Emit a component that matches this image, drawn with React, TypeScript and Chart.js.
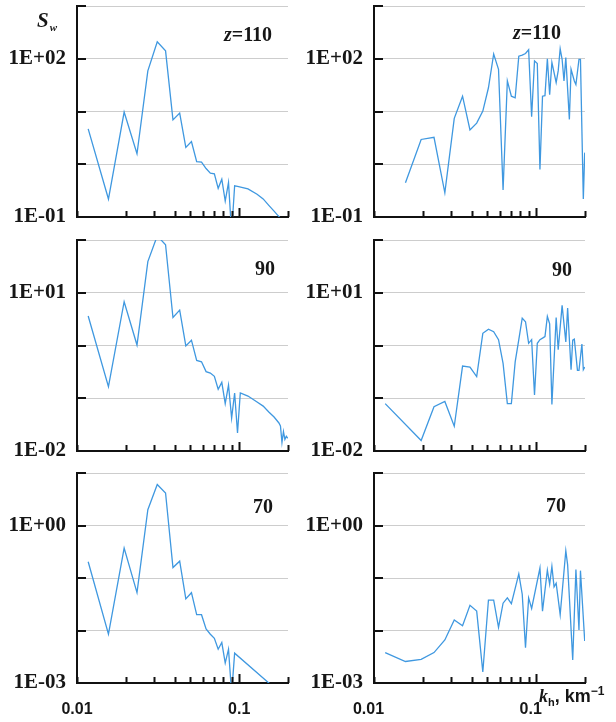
import React, { useEffect, useRef } from 'react';
import { Chart, registerables } from 'chart.js';

Chart.register(...registerables);

// horizontal wavenumber k_h (km^-1)
const K = [
  0.01172, 0.01563, 0.01953, 0.02344, 0.02734, 0.03125, 0.03516, 0.03906, 0.04297, 0.04688,
  0.05078, 0.05469, 0.05859, 0.0625, 0.06641, 0.07031, 0.07422, 0.07813, 0.08203, 0.08594,
  0.08984, 0.09375, 0.09766, 0.1016, 0.1055, 0.1094, 0.1133, 0.1172, 0.1211, 0.125,
  0.1289, 0.1328, 0.1367, 0.1406, 0.1445, 0.1484, 0.1523, 0.1563, 0.1602, 0.1641,
  0.168, 0.1719, 0.1758, 0.1797, 0.1836, 0.1875, 0.1914, 0.1953, 0.1992,
];

// S_w, left column
const SW_L_110 = [
  4.68, 0.219, 9.77, 1.58, 58.9, 209, 141, 6.92, 9.33, 2.09,
  2.69, 1.12, 1.10, 0.83, 0.68, 0.66, 0.35, 0.52, 0.20, 0.45,
  0.05, 0.39, 0.38, null, null, null, 0.34, null, null, null,
  0.27, null, null, 0.22, null, null, 0.166, null, null, 0.129,
  null, 0.11, null, 0.095, null, 0.079, null, null, null,
];
const SW_L_90 = [
  3.63, 0.166, 6.76, 1.02, 38.9, 120, 81.3, 3.39, 4.68, 0.98,
  1.26, 0.52, 0.49, 0.32, 0.30, 0.26, 0.148, 0.20, 0.079, 0.178,
  0.042, 0.126, 0.022, 0.126, null, null, 0.110, null, null, null,
  0.085, null, null, 0.071, null, null, 0.055, null, null, 0.044,
  null, 0.037, 0.034, 0.030, 0.0145, 0.0234, 0.0166, 0.019, 0.0174,
];
const SW_L_70 = [
  0.204, 0.0085, 0.372, 0.0525, 2.0, 6.03, 4.17, 0.158, 0.209, 0.040,
  0.0525, 0.020, 0.020, 0.0107, 0.0085, 0.0071, 0.0044, 0.0059, 0.0024, 0.0044,
  0.00063, 0.0037, null, null, null, null, null, null, null, null,
  null, null, null, null, null, null, 0.001, null, null, 0.0008,
  null, null, null, null, null, null, null, null, null,
];

// S_w, right column
const SW_R_110 = [
  null, 0.447, 2.95, 3.24, 0.288, 7.41, 19.5, 4.47, 6.03, 10.2,
  28.2, 123, 63.1, 0.324, 38.0, 19.5, 18.2, 112, 117, 126,
  148, 7.94, 91.2, 81.3, 0.794, 19.5, 20.0, 100, 20.9, 85.1,
  null, 35.5, 58.9, 155, 97.7, 38.0, 105, null, 7.08, 63.1,
  null, 38.0, 32.4, null, 97.7, 97.7, null, 0.219, 1.66,
];
const SW_R_90 = [
  0.079, null, 0.0158, 0.069, 0.087, 0.0295, 0.407, 0.389, 0.257, 1.70,
  2.04, 1.82, 1.29, 0.457, 0.079, 0.079, 0.49, 1.29, 3.31, 2.82,
  1.10, 1.29, 0.115, 1.10, 1.29, 1.38, 1.48, 3.55, 2.57, 0.076,
  null, 3.39, 0.83, null, 5.75, null, 1.17, 5.13, null, 0.347,
  1.26, 1.32, null, 0.339, 0.339, null, 1.07, 0.347, 0.389,
];
const SW_R_70 = [
  0.0038, 0.00257, 0.00282, 0.0038, 0.0066, 0.0158, 0.0123, 0.0302, 0.0234, 0.00162,
  0.038, 0.038, 0.0115, 0.0331, 0.0417, 0.0324, null, 0.120, 0.049, 0.00468,
  0.0417, 0.0263, null, null, 0.155, 0.0234, null, 0.141, 0.0759, 0.166,
  0.0676, 0.0794, null, 0.020, null, null, 0.331, 0.178, null, null,
  0.00275, null, 0.145, null, 0.0102, 0.138, null, null, 0.0063,
];

const X_TICKS = [0.01, 0.02, 0.03, 0.04, 0.05, 0.06, 0.07, 0.08, 0.09, 0.1, 0.2];
const X_LABELED = [0.01, 0.1];
const X_LABEL_TEXT = ['0.01', '0.1'];

const DECADES_110 = [0.1, 1, 10, 100, 1000];
const DECADES_90 = [0.01, 0.1, 1, 10, 100];
const DECADES_70 = [0.001, 0.01, 0.1, 1, 10];
const Y_LABELED_110 = [0.1, 100];
const Y_LABELED_90 = [0.01, 10];
const Y_LABELED_70 = [0.001, 1];

const LINE_COLOR = '#3f98e0';
const TEXT = '#161616';

function fmtE(v: number): string {
  const e = Math.round(Math.log10(v));
  const a = Math.abs(e);
  return '1E' + (e < 0 ? '-' : '+') + (a < 10 ? '0' : '') + a;
}

const near = (a: number, b: number) => Math.abs(a / b - 1) < 1e-6;

const tickMarks = {
  id: 'tickMarks',
  afterDraw(chart: any) {
    const { ctx, chartArea, scales } = chart;
    ctx.save();
    ctx.strokeStyle = '#111';
    ctx.lineWidth = 2;
    ctx.beginPath();
    for (const t of scales.y.ticks) {
      const y = Math.round(scales.y.getPixelForValue(t.value));
      ctx.moveTo(chartArea.left, y);
      ctx.lineTo(chartArea.left + 9, y);
    }
    for (const v of X_TICKS) {
      const x = Math.round(scales.x.getPixelForValue(v)) + 0.5;
      const len = near(v, 0.1) ? 9 : 6;
      ctx.moveTo(x, chartArea.bottom);
      ctx.lineTo(x, chartArea.bottom - len);
    }
    ctx.stroke();
    ctx.restore();
  },
};

type PanelProps = {
  series: (number | null)[];
  decades: number[];
  labeled: number[];
  col: number;
  left: number;
  top: number;
  width: number;
  height: number;
  xAxisH: number;
  showX: boolean;
};

function zeroPad(s: any) {
  s.paddingTop = 0;
  s.paddingBottom = 0;
  s.paddingLeft = 0;
  s.paddingRight = 0;
}

function Panel(p: PanelProps) {
  const ref = useRef<HTMLCanvasElement>(null);
  useEffect(() => {
    const data = K.map((x, i) => ({ x, y: p.series[i] })).filter((d) => d.y !== null && d.y !== undefined);
    const chart = new Chart(ref.current as HTMLCanvasElement, {
      type: 'line',
      data: {
        datasets: [
          {
            data: data as any,
            borderColor: LINE_COLOR,
            borderWidth: 1.3,
            pointRadius: 0,
            tension: 0,
            fill: false,
          },
        ],
      },
      options: {
        responsive: false,
        animation: false,
        events: [],
        layout: { padding: { top: 6, right: p.col === 0 ? 12 : 31, left: 0, bottom: 0 } },
        plugins: { legend: { display: false }, tooltip: { enabled: false }, title: { display: false } },
        scales: {
          x: {
            type: 'logarithmic',
            min: 0.01,
            max: 0.2,
            position: 'bottom',
            afterBuildTicks: (s: any) => {
              s.ticks = X_TICKS.map((v) => ({ value: v }));
            },
            afterFit: (s: any) => {
              s.height = p.xAxisH;
              zeroPad(s);
            },
            grid: { display: false, drawTicks: false },
            border: { display: true, color: '#111', width: 2 },
            ticks: {
              display: p.showX,
              autoSkip: false,
              maxRotation: 0,
              minRotation: 0,
              padding: 17,
              labelOffset: p.col === 0 ? 0 : -5.5,
              color: TEXT,
              font: { family: '"Liberation Sans", Arial, sans-serif', weight: 'bold', size: 16 },
              callback: (v: any) => {
                const i = X_LABELED.findIndex((l) => near(Number(v), l));
                return i >= 0 ? X_LABEL_TEXT[i] : '';
              },
            },
          },
          y: {
            type: 'logarithmic',
            min: p.decades[0],
            max: p.decades[p.decades.length - 1],
            position: 'left',
            afterBuildTicks: (s: any) => {
              s.ticks = p.decades.map((v) => ({ value: v }));
            },
            afterFit: (s: any) => {
              s.width = p.col === 0 ? 77 : 74;
              zeroPad(s);
            },
            grid: { display: true, color: '#cdcdcd', lineWidth: 1, drawTicks: false },
            border: { display: true, color: '#111', width: 2 },
            ticks: {
              autoSkip: false,
              padding: 11,
              color: TEXT,
              font: { family: '"Liberation Serif", "Times New Roman", serif', weight: 'bold', size: 21 },
              callback: (v: any) => (p.labeled.some((l) => near(Number(v), l)) ? fmtE(Number(v)) : ''),
            },
          },
        },
      },
      plugins: [tickMarks],
    } as any);
    return () => chart.destroy();
  }, []);
  return (
    <canvas
      ref={ref}
      width={p.width}
      height={p.height}
      style={{ position: 'absolute', left: p.left, top: p.top, width: p.width, height: p.height }}
    />
  );
}

const serifBold: React.CSSProperties = {
  position: 'absolute',
  fontFamily: '"Liberation Serif", "Times New Roman", serif',
  fontWeight: 'bold',
  fontSize: 20,
  lineHeight: '20px',
  color: TEXT,
  whiteSpace: 'nowrap',
};

export default function App() {
  const rows = [
    { top: 0, height: 234, xAxisH: 17, showX: false, decades: DECADES_110, labeled: Y_LABELED_110, l: SW_L_110, r: SW_R_110 },
    { top: 234, height: 234, xAxisH: 17, showX: false, decades: DECADES_90, labeled: Y_LABELED_90, l: SW_L_90, r: SW_R_90 },
    { top: 467, height: 255, xAxisH: 39, showX: true, decades: DECADES_70, labeled: Y_LABELED_70, l: SW_L_70, r: SW_R_70 },
  ];
  return (
    <div style={{ position: 'absolute', left: 0, top: 0, width: 616, height: 722, background: '#fff', overflow: 'hidden' }}>
      {rows.map((r, i) => (
        <React.Fragment key={i}>
          <Panel series={r.l} decades={r.decades} labeled={r.labeled} col={0} left={0} top={r.top} width={300} height={r.height} xAxisH={r.xAxisH} showX={r.showX} />
          <Panel series={r.r} decades={r.decades} labeled={r.labeled} col={1} left={300} top={r.top} width={316} height={r.height} xAxisH={r.xAxisH} showX={r.showX} />
        </React.Fragment>
      ))}
      <div style={{ ...serifBold, left: 37, top: 10, fontStyle: 'italic', fontSize: 21 }}>
        S<span style={{ fontSize: 11, position: 'relative', top: 4, marginLeft: 1 }}>w</span>
      </div>
      <div style={{ ...serifBold, left: 224, top: 24 }}>
        <i>z</i>=110
      </div>
      <div style={{ ...serifBold, left: 513, top: 22 }}>
        <i>z</i>=110
      </div>
      <div style={{ ...serifBold, left: 255, top: 258 }}>90</div>
      <div style={{ ...serifBold, left: 552, top: 259 }}>90</div>
      <div style={{ ...serifBold, left: 253, top: 496 }}>70</div>
      <div style={{ ...serifBold, left: 546, top: 495 }}>70</div>
      <div
        style={{
          position: 'absolute',
          left: 539,
          top: 686,
          fontFamily: '"Liberation Sans", Arial, sans-serif',
          fontWeight: 'bold',
          fontSize: 18,
          lineHeight: '20px',
          color: TEXT,
          whiteSpace: 'nowrap',
        }}
      >
        <i style={{ fontFamily: '"Liberation Serif", serif' }}>k</i>
        <span style={{ fontSize: 11, position: 'relative', top: 4 }}>h</span>, km
        <span style={{ fontSize: 12, position: 'relative', top: -7 }}>−1</span>
      </div>
    </div>
  );
}
